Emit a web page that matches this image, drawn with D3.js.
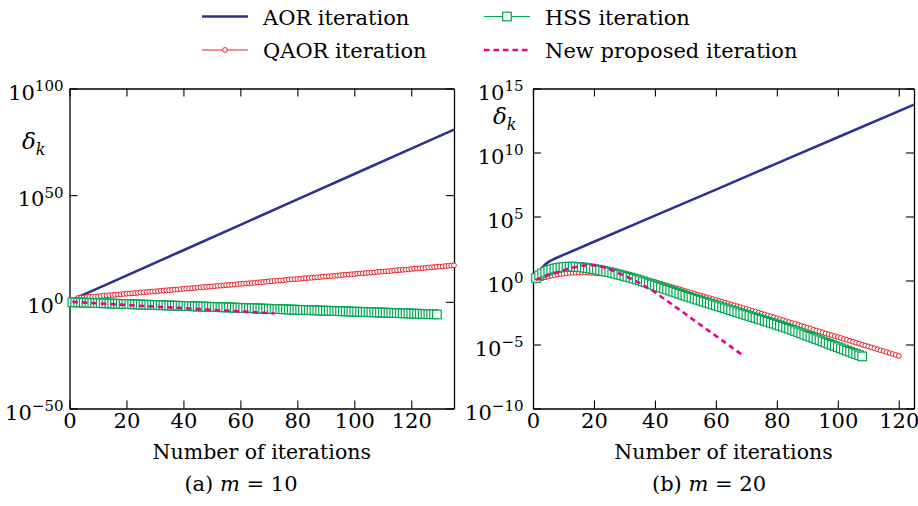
<!DOCTYPE html>
<html lang="en">
<head>
<meta charset="UTF-8">
<title>Residual delta_k versus number of iterations</title>
<script src="https://d3js.org/d3.v7.min.js"></script>
<style>
  body { margin: 0; background: #fff; }
  svg text { font-family: "DejaVu Serif", "Noto Serif", "Liberation Serif", serif; fill: #000; }
</style>
</head>
<body>
<div id="chart"></div>
<script>
// values are log10(delta_k); markers sit at k = 1, 2, 3, ...

// (a) m = 10
const aorA_k   = [1, 2, 20, 40, 60, 80, 100, 120, 135];
const aorA_log = [0.9, 1.6, 12.3, 24.2, 36.1, 48.0, 59.9, 71.8, 80.7];
const qaorA_log = [
  0.0, 1.0, 1.8, 1.9, 2.0, 2.2, 2.3, 2.4, 2.5, 2.6,
  2.7, 2.9, 3.0, 3.1, 3.2, 3.3, 3.4, 3.5, 3.7, 3.8,
  3.9, 4.0, 4.1, 4.2, 4.4, 4.5, 4.6, 4.7, 4.8, 4.9,
  5.0, 5.2, 5.3, 5.4, 5.5, 5.6, 5.7, 5.8, 6.0, 6.1,
  6.2, 6.3, 6.4, 6.5, 6.6, 6.8, 6.9, 7.0, 7.1, 7.2,
  7.3, 7.5, 7.6, 7.7, 7.8, 7.9, 8.0, 8.1, 8.3, 8.4,
  8.5, 8.6, 8.7, 8.8, 8.9, 9.1, 9.2, 9.3, 9.4, 9.6,
  9.7, 9.8, 9.9, 10.0, 10.1, 10.3, 10.4, 10.5, 10.6, 10.7,
  10.8, 11.0, 11.1, 11.2, 11.3, 11.4, 11.5, 11.6, 11.8, 11.9,
  12.0, 12.1, 12.2, 12.3, 12.5, 12.6, 12.7, 12.8, 12.9, 13.0,
  13.2, 13.3, 13.4, 13.5, 13.6, 13.7, 13.8, 14.0, 14.1, 14.2,
  14.3, 14.4, 14.5, 14.7, 14.8, 14.9, 15.0, 15.1, 15.2, 15.4,
  15.5, 15.6, 15.7, 15.8, 15.9, 16.1, 16.2, 16.3, 16.4, 16.5,
  16.6, 16.8, 16.9, 17.0, 17.1
];
const hssA_log = [
  -0.2, -0.2, -0.3, -0.3, -0.4, -0.4, -0.5, -0.5, -0.6, -0.6,
  -0.6, -0.7, -0.7, -0.8, -0.8, -0.9, -0.9, -1.0, -1.0, -1.0,
  -1.1, -1.1, -1.2, -1.2, -1.3, -1.3, -1.4, -1.4, -1.4, -1.5,
  -1.5, -1.6, -1.6, -1.7, -1.7, -1.8, -1.8, -1.8, -1.9, -1.9,
  -2.0, -2.0, -2.1, -2.1, -2.2, -2.2, -2.2, -2.3, -2.3, -2.4,
  -2.4, -2.5, -2.5, -2.6, -2.6, -2.6, -2.7, -2.7, -2.8, -2.8,
  -2.9, -2.9, -3.0, -3.0, -3.0, -3.1, -3.1, -3.2, -3.2, -3.3,
  -3.3, -3.4, -3.4, -3.4, -3.5, -3.5, -3.6, -3.6, -3.7, -3.7,
  -3.8, -3.8, -3.8, -3.9, -3.9, -4.0, -4.0, -4.1, -4.1, -4.2,
  -4.2, -4.2, -4.3, -4.3, -4.4, -4.4, -4.5, -4.5, -4.6, -4.6,
  -4.6, -4.7, -4.7, -4.8, -4.8, -4.9, -4.9, -5.0, -5.0, -5.0,
  -5.1, -5.1, -5.2, -5.2, -5.3, -5.3, -5.4, -5.4, -5.4, -5.5,
  -5.5, -5.6, -5.6, -5.7, -5.7, -5.8, -5.8, -5.8, -5.9
];
const newA_k   = [1, 20, 40, 60, 72];
const newA_log = [0.0, -1.5, -3.0, -4.5, -5.45];

// (b) m = 20
const aorB_k   = [1, 2, 3, 4, 5, 6, 8, 10, 20, 40, 60, 80, 100, 125];
const aorB_log = [0.0, 0.6, 1.0, 1.25, 1.43, 1.57, 1.8, 2.0, 3.03, 5.07, 7.1, 9.15, 11.19, 13.74];
const qaorB_log = [
  0.00, 0.10, 0.18, 0.25, 0.31, 0.37, 0.42, 0.46, 0.50, 0.53,
  0.56, 0.58, 0.60, 0.61, 0.62, 0.62, 0.62, 0.61, 0.60, 0.59,
  0.57, 0.55, 0.53, 0.51, 0.48, 0.45, 0.42, 0.39, 0.36, 0.33,
  0.29, 0.25, 0.21, 0.17, 0.13, 0.08, 0.03, -0.02, -0.07, -0.12,
  -0.19, -0.26, -0.33, -0.40, -0.47, -0.54, -0.61, -0.68, -0.75, -0.82,
  -0.89, -0.96, -1.03, -1.10, -1.17, -1.24, -1.31, -1.38, -1.45, -1.52,
  -1.59, -1.66, -1.73, -1.80, -1.87, -1.94, -2.01, -2.08, -2.15, -2.22,
  -2.29, -2.37, -2.44, -2.51, -2.59, -2.66, -2.73, -2.81, -2.88, -2.95,
  -3.03, -3.10, -3.17, -3.25, -3.32, -3.39, -3.47, -3.54, -3.61, -3.69,
  -3.76, -3.83, -3.91, -3.98, -4.05, -4.13, -4.20, -4.27, -4.35, -4.42,
  -4.49, -4.57, -4.64, -4.71, -4.79, -4.86, -4.93, -5.01, -5.08, -5.15,
  -5.23, -5.30, -5.37, -5.45, -5.52, -5.59, -5.67, -5.74, -5.81, -5.89
];
const hssB_log = [
  0.20, 0.40, 0.55, 0.68, 0.78, 0.86, 0.93, 0.98, 1.02, 1.05,
  1.07, 1.08, 1.08, 1.07, 1.05, 1.03, 1.00, 0.97, 0.93, 0.89,
  0.85, 0.80, 0.75, 0.70, 0.65, 0.59, 0.53, 0.47, 0.41, 0.35,
  0.29, 0.22, 0.15, 0.08, 0.01, -0.07, -0.15, -0.23, -0.31, -0.39,
  -0.47, -0.55, -0.63, -0.71, -0.79, -0.87, -0.95, -1.03, -1.11, -1.19,
  -1.27, -1.35, -1.42, -1.50, -1.57, -1.65, -1.72, -1.80, -1.87, -1.95,
  -2.02, -2.10, -2.17, -2.25, -2.32, -2.40, -2.47, -2.55, -2.62, -2.70,
  -2.77, -2.85, -2.92, -3.00, -3.07, -3.15, -3.22, -3.30, -3.37, -3.45,
  -3.53, -3.61, -3.69, -3.77, -3.86, -3.95, -4.04, -4.13, -4.22, -4.31,
  -4.40, -4.49, -4.58, -4.67, -4.76, -4.85, -4.94, -5.03, -5.12, -5.21,
  -5.30, -5.39, -5.48, -5.57, -5.66, -5.75, -5.84, -5.93
];
const newB_k   = [1, 4, 8, 12, 16, 19, 22, 25, 28, 30, 32, 35, 40, 50, 60, 69];
const newB_log = [0.05, 0.35, 0.65, 0.95, 1.15, 1.22, 1.12, 0.9, 0.58, 0.38, 0.16, -0.2, -0.91, -2.62, -4.33, -5.87];

const xTicksA = [0, 20, 40, 60, 80, 100, 120];
const yTicksA = [-50, 0, 50, 100];
const xTicksB = [0, 20, 40, 60, 80, 100, 120];
const yTicksB = [-10, -5, 0, 5, 10, 15];

const seriesNames = ["AOR iteration", "QAOR iteration", "HSS iteration", "New proposed iteration"];
const colors = { aor: "#2e3192", qaor: "#ed1c24", hss: "#00a651", nw: "#ec008c" };
const serif = '"DejaVu Serif", "Noto Serif", "Liberation Serif", serif';

const svg = d3.select('#chart').append('svg')
    .attr('width', 918)
    .attr('height', 506)
    .attr('font-family', serif);

const toPts = (ks, logs) => ks.map((k, i) => [k, Math.pow(10, logs[i])]);
const seq = logs => logs.map((v, i) => [i + 1, Math.pow(10, v)]);

function drawPanel(p) {
    const x = d3.scaleLinear().domain(p.xDomain).range([p.left, p.right]);
    const y = d3.scaleLog().domain(p.yDomain).range([p.bottom, p.top]);
    const g = svg.append('g');
    const line = d3.line().x(d => x(d[0])).y(d => y(d[1]));

    // frame + inward ticks on all four sides
    const axes = [
        [d3.axisBottom(x).tickValues(p.xTicks).tickPadding(5), `translate(0,${p.bottom})`],
        [d3.axisTop(x).tickValues(p.xTicks).tickFormat(() => ''), `translate(0,${p.top})`],
        [d3.axisLeft(y).tickValues(p.yTicks.map(e => Math.pow(10, e))).tickFormat(() => ''), `translate(${p.left},0)`],
        [d3.axisRight(y).tickValues(p.yTicks.map(e => Math.pow(10, e))).tickFormat(() => ''), `translate(${p.right},0)`]
    ];
    axes.forEach(([ax, tr]) => {
        const a = g.append('g').attr('transform', tr)
            .call(ax.tickSizeInner(-8).tickSizeOuter(0))
            .attr('font-family', serif);
        a.select('.domain').attr('stroke', '#000').attr('stroke-width', 1.3);
        a.selectAll('.tick line').attr('stroke', '#000').attr('stroke-width', 1.1);
        a.selectAll('text').style('font-size', '21px').attr('fill', '#000')
            .style('font-family', serif);
    });

    // y tick labels 10^e
    p.yTicks.forEach(e => {
        const t = g.append('text')
            .attr('x', p.left - p.labelGap)
            .attr('y', y(Math.pow(10, e)) + 11)
            .attr('text-anchor', 'end')
            .style('font-size', '21px');
        t.append('tspan').text('10');
        t.append('tspan').attr('dy', -8.5).style('font-size', '15px')
            .text(e < 0 ? '\u2212' + (-e) : String(e));
    });

    // delta_k label
    const dl = g.append('text').attr('x', p.deltaX).attr('y', p.deltaY)
        .style('font-size', '23px').style('font-style', 'italic');
    dl.append('tspan').text('\u03b4');
    dl.append('tspan').attr('dy', 6).style('font-size', '16px').text('k');

    // x label and caption
    g.append('text').attr('x', (p.left + p.right) / 2).attr('y', 459)
        .attr('text-anchor', 'middle').style('font-size', '20.5px')
        .text('Number of iterations');
    const cap = g.append('text').attr('x', p.capX).attr('y', 491)
        .attr('text-anchor', 'middle').style('font-size', '21px');
    cap.append('tspan').text(p.capTag + ' ');
    cap.append('tspan').style('font-style', 'italic').text('m');
    cap.append('tspan').text(' = ' + p.capVal);

    // AOR
    g.append('path').datum(p.aor).attr('d', line)
        .attr('fill', 'none').attr('stroke', colors.aor).attr('stroke-width', 2.6);

    // QAOR
    g.append('path').datum(p.qaor).attr('d', line)
        .attr('fill', 'none').attr('stroke', colors.qaor).attr('stroke-width', 1);
    g.append('g').selectAll('circle').data(p.qaor).join('circle')
        .attr('cx', d => x(d[0])).attr('cy', d => y(d[1])).attr('r', 2.4)
        .attr('fill', '#fff').attr('stroke', colors.qaor).attr('stroke-width', 1);

    // HSS
    const s = 8.6;
    g.append('path').datum(p.hss).attr('d', line)
        .attr('fill', 'none').attr('stroke', colors.hss).attr('stroke-width', 1.2);
    g.append('g').selectAll('rect').data(p.hss).join('rect')
        .attr('x', d => x(d[0]) - s / 2).attr('y', d => y(d[1]) - s / 2)
        .attr('width', s).attr('height', s)
        .attr('fill', '#fff').attr('stroke', colors.hss).attr('stroke-width', 1.2);

    // new proposed
    g.append('path').datum(p.nw).attr('d', line)
        .attr('fill', 'none').attr('stroke', colors.nw).attr('stroke-width', 2.6)
        .attr('stroke-dasharray', '5.5,4');
}

drawPanel({
    left: 69.5, right: 454, top: 88.5, bottom: 408.5,
    xDomain: [0, 135], yDomain: [1e-50, 1e100],
    xTicks: xTicksA, yTicks: yTicksA, labelGap: 6,
    deltaX: 22, deltaY: 149, capX: 241, capTag: '(a)', capVal: '10',
    aor: toPts(aorA_k, aorA_log), qaor: seq(qaorA_log), hss: seq(hssA_log), nw: toPts(newA_k, newA_log)
});

drawPanel({
    left: 533, right: 914, top: 88.5, bottom: 408.5,
    xDomain: [0, 125], yDomain: [1e-10, 1e15],
    xTicks: xTicksB, yTicks: yTicksB, labelGap: 9.5,
    deltaX: 493, deltaY: 124, capX: 709, capTag: '(b)', capVal: '20',
    aor: toPts(aorB_k, aorB_log), qaor: seq(qaorB_log), hss: seq(hssB_log), nw: toPts(newB_k, newB_log)
});

// legend
const legend = svg.append('g');
const legItems = [
    { name: seriesNames[0], c: colors.aor, x: 202, y: 16.5, w: 2.6, mark: null },
    { name: seriesNames[1], c: colors.qaor, x: 202, y: 50, w: 1, mark: 'circle' },
    { name: seriesNames[2], c: colors.hss, x: 484, y: 16.5, w: 1.2, mark: 'square' },
    { name: seriesNames[3], c: colors.nw, x: 484, y: 50, w: 2.6, mark: null, dash: '5.5,4' }
];
legItems.forEach(it => {
    legend.append('line').attr('x1', it.x).attr('x2', it.x + 46)
        .attr('y1', it.y).attr('y2', it.y)
        .attr('stroke', it.c).attr('stroke-width', it.w)
        .attr('stroke-dasharray', it.dash || null);
    if (it.mark === 'circle') {
        legend.append('circle').attr('cx', it.x + 23).attr('cy', it.y).attr('r', 2.4)
            .attr('fill', '#fff').attr('stroke', it.c);
    } else if (it.mark === 'square') {
        legend.append('rect').attr('x', it.x + 23 - 4.3).attr('y', it.y - 4.3)
            .attr('width', 8.6).attr('height', 8.6)
            .attr('fill', '#fff').attr('stroke', it.c).attr('stroke-width', 1.2);
    }
    legend.append('text').attr('x', it.x + 61).attr('y', it.y + 8)
        .style('font-size', '21px')
        .text(it.name);
});
</script>
</body>
</html>
